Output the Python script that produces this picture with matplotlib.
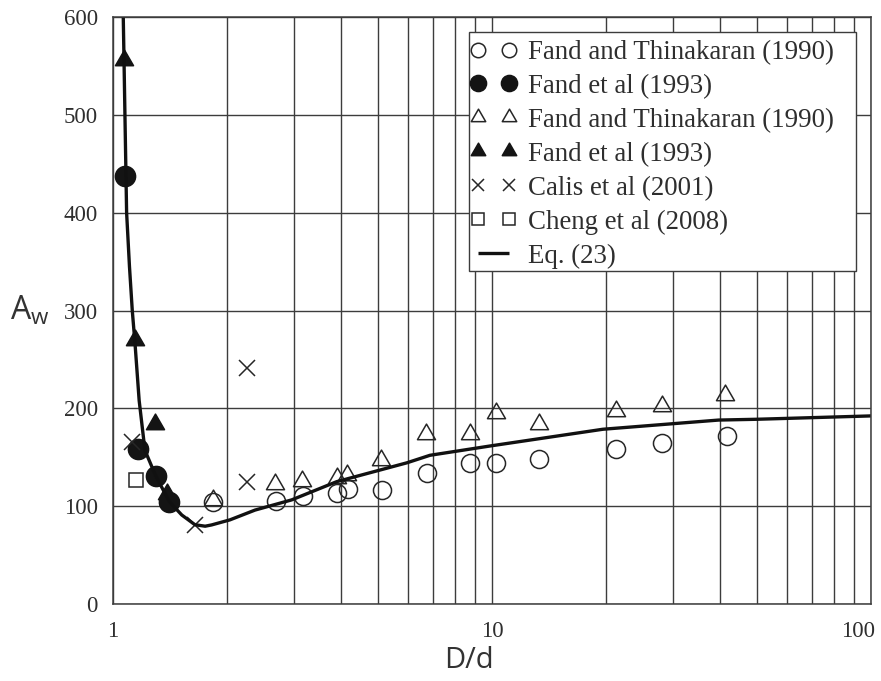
import matplotlib
matplotlib.use("Agg")
import matplotlib.pyplot as plt
import matplotlib.transforms as mtransforms
from matplotlib.patches import Rectangle
from matplotlib.path import Path
from matplotlib.ticker import FixedLocator, NullFormatter

# Fand and Thinakaran (1990), open circles
ft_circ_x = [1.837, 2.69, 3.18, 3.90, 4.17, 5.11, 6.72, 8.75, 10.23, 13.3, 21.2, 28.1, 41.6]
ft_circ_y = [104.6, 105.0, 110.0, 113.0, 118.0, 117.0, 134.0, 144.5, 144.5, 148.0, 158.0, 165.0, 172.0]

# Fand et al (1993), filled circles
fe_circ_x = [1.075, 1.166, 1.296, 1.408]
fe_circ_y = [437.0, 158.0, 131.0, 104.6]

# Fand and Thinakaran (1990), open triangles
ft_tri_x = [1.837, 2.67, 3.15, 3.90, 4.15, 5.10, 6.68, 8.75, 10.23, 13.3, 21.2, 28.1, 41.2]
ft_tri_y = [106.0, 123.0, 126.0, 129.0, 132.0, 147.0, 174.0, 174.0, 195.0, 184.0, 197.0, 202.5, 214.0]

# Fand et al (1993), filled triangles
fe_tri_x = [1.069, 1.143, 1.290, 1.390]
fe_tri_y = [556.0, 270.0, 184.0, 112.0]

# Calis et al (2001)
calis_x = [1.12, 1.645, 2.26, 2.26]
calis_y = [166.0, 81.0, 241.0, 125.0]

# Cheng et al (2008)
cheng_x = [1.15]
cheng_y = [127.0]

# Eq. (23)
eq_x = [1.063, 1.069, 1.075, 1.086, 1.105, 1.124, 1.143, 1.172, 1.214, 1.296, 1.408,
        1.518, 1.645, 1.75, 1.82, 2.035, 2.37, 2.96, 3.89, 5.96, 6.86, 9.88,
        19.6, 39.6, 49.8, 99.0, 100.0]
eq_y = [610.0, 556.0, 500.0, 400.0, 345.0, 300.0, 266.0, 208.0, 157.0, 131.0, 104.6,
        91.0, 81.0, 79.5, 80.8, 86.0, 96.0, 106.4, 125.0, 144.3, 152.0, 161.5,
        178.6, 188.0, 188.8, 192.2, 192.3]

x_major = [1, 10, 100]
x_major_labels = ["1", "10", "100"]
x_minor = [2, 3, 4, 5, 6, 7, 8, 9, 20, 30, 40, 50, 60, 70, 80, 90]
y_ticks = [0, 100, 200, 300, 400, 500, 600]

serif = ["Liberation Serif", "DejaVu Serif"]
ink = "#262626"
grid_c = "#3c3c3c"

tri = Path([(0, 1.155), (-1, -0.577), (1, -0.577), (0, 1.155)],
           [Path.MOVETO, Path.LINETO, Path.LINETO, Path.CLOSEPOLY])

W, H = 881, 681
fig = plt.figure(figsize=(W / 100, H / 100), dpi=100)
ax = fig.add_axes([0.1283, 0.1131, 0.8604, 0.8619])
ax.set_xscale("log")
ax.set_xlim(1, 100)
ax.set_ylim(0, 600)

ax.xaxis.set_major_locator(FixedLocator(x_major))
ax.xaxis.set_minor_locator(FixedLocator(x_minor))
ax.xaxis.set_minor_formatter(NullFormatter())
ax.set_xticklabels(x_major_labels)
ax.set_yticks(y_ticks)
ax.set_yticklabels([str(v) for v in y_ticks])
ax.grid(True, which="both", axis="x", color=grid_c, lw=1.0)
ax.grid(True, which="major", axis="y", color=grid_c, lw=1.0)
ax.set_axisbelow(True)
ax.tick_params(which="both", length=0)
ax.tick_params(axis="x", pad=12, labelsize=16.5, labelcolor="#2e2e2e")
ax.tick_params(axis="y", pad=11, labelsize=16.5, labelcolor="#2e2e2e")
for lab in ax.get_xticklabels() + ax.get_yticklabels():
    lab.set_family(serif)
last = ax.get_xticklabels()[-1]
last.set_transform(last.get_transform() + mtransforms.ScaledTranslation(-0.13, 0, fig.dpi_scale_trans))
for s in ax.spines.values():
    s.set_color(grid_c)
    s.set_linewidth(1.1)

mew = 1.1
h1, = ax.plot(ft_circ_x, ft_circ_y, ls="none", marker="o", ms=13, mfc="none", mec=ink, mew=mew,
              label="Fand and Thinakaran (1990)")
h2, = ax.plot(fe_circ_x, fe_circ_y, ls="none", marker="o", ms=14.5, mfc="#141414", mec="#141414", mew=mew,
              label="Fand et al (1993)")
h3, = ax.plot(ft_tri_x, ft_tri_y, ls="none", marker=tri, ms=15, mfc="none", mec=ink, mew=mew,
              label="Fand and Thinakaran (1990)")
h4, = ax.plot(fe_tri_x, fe_tri_y, ls="none", marker=tri, ms=15, mfc="#141414", mec="#141414", mew=mew,
              label="Fand et al (1993)")
h5, = ax.plot(calis_x, calis_y, ls="none", marker="x", ms=11.5, mec=ink, mew=mew,
              label="Calis et al (2001)")
h6, = ax.plot(cheng_x, cheng_y, ls="none", marker="s", ms=10, mfc="white", mec=ink, mew=mew,
              label="Cheng et al (2008)")
h7, = ax.plot(eq_x, eq_y, color="#111111", lw=2.4, label="Eq. (23)", solid_capstyle="butt")

# legend panel: white box with a thin frame, entries laid over it
box_l, box_t, box_r, box_b = 469, 32, 856, 271
fig.patches.append(Rectangle((box_l / W, 1 - box_b / H), (box_r - box_l) / W, (box_b - box_t) / H,
                             transform=fig.transFigure, facecolor="white", edgecolor=grid_c,
                             lw=1.0, zorder=3))
leg = fig.legend(handles=[h1, h2, h3, h4, h5, h6, h7], loc="upper left",
                 bbox_to_anchor=(470 / W, 1 - 40 / H), numpoints=2, markerscale=0.8,
                 prop={"family": serif, "size": 19.4}, frameon=False,
                 borderpad=0, labelspacing=0.33,
                 handlelength=1.74, handletextpad=0.4, borderaxespad=0)
leg.set_zorder(4)
for t in leg.get_texts():
    t.set_color("#2e2e2e")

ax.set_ylabel(r"$\mathregular{A_w}$", rotation=0, fontsize=23, family="Open Sans",
              color="#333333", va="center", ha="center")
ax.yaxis.set_label_coords(-0.11, 0.5)
ax.set_xlabel("D/d", fontsize=21, family="Open Sans", color="#333333", va="center")
ax.xaxis.set_label_coords(0.47, -0.097)

fig.savefig("out.png", dpi=100)
